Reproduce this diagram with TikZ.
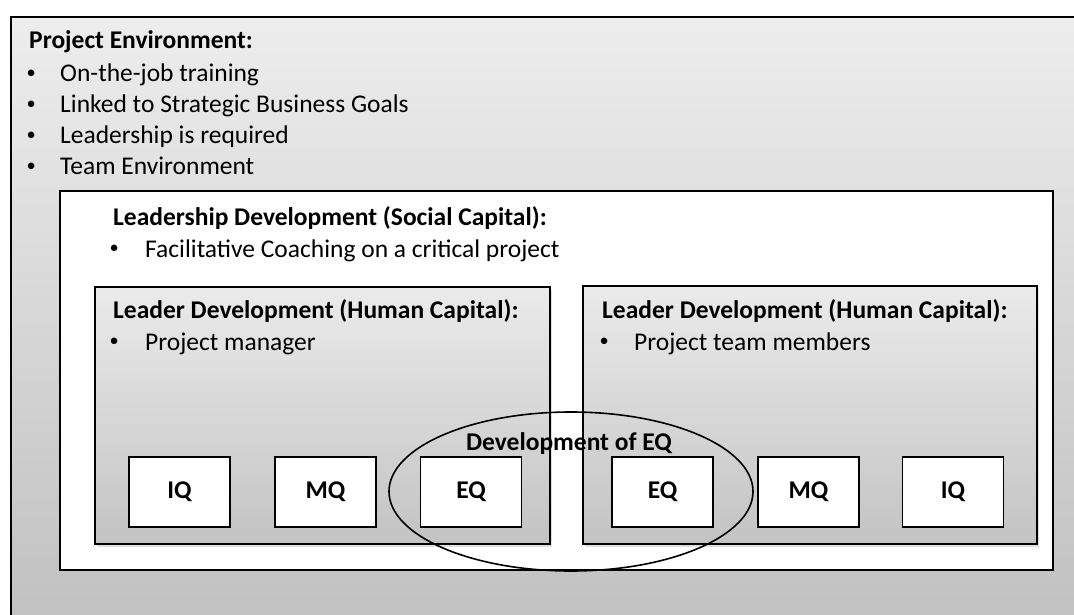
\documentclass[tikz,border=0pt]{standalone}
\usepackage{fontspec}
\setmainfont{Carlito}
\usetikzlibrary{shapes.geometric, shadows, positioning}

\newcommand{\bodyfont}{\fontsize{25.5}{31.5}\selectfont}
\newcommand{\bul}[1]{\makebox[#1][l]{\raisebox{3.5pt}{\scalebox{0.72}{\textbullet}}}}

\begin{document}
\begin{tikzpicture}[x=1pt, y=-1pt,
  panel/.style={draw=black, line width=1.4pt, top color=gray!16, bottom color=gray!47},
  qbox/.style={draw=black, line width=1.3pt, fill=white, minimum width=101pt, minimum height=70pt, inner sep=0pt, font=\bodyfont\bfseries},
  heading/.style={anchor=base west, inner sep=0pt, font=\bodyfont\bfseries},
  item/.style={anchor=base west, inner sep=0pt, font=\bodyfont}]

% Picture frame, the outer box runs off the right and bottom edges
\useasboundingbox (0,0) rectangle (1074,615);
\clip (0,0) rectangle (1074,615);

% Project environment (outer box), only its top and left sides show
\shade[top color=gray!14, bottom color=gray!50] (11,17) rectangle (1090,640);
\draw[line width=1.5pt] (1090,17) -- (11,17) -- (11,640);
\node[heading] (env-title) at (29,49) {Project Environment:};
\node[item] (env-a) at (26.5,82) {\bul{33.5pt}On-the-job training};
\node[item] (env-b) at (26.5,113) {\bul{33.5pt}Linked to Strategic Business Goals};
\node[item] (env-c) at (26.5,144) {\bul{33.5pt}Leadership is required};
\node[item] (env-d) at (26.5,175) {\bul{33.5pt}Team Environment};

% Leadership development (white box)
\draw[line width=1.5pt, fill=white] (60,191) rectangle (1053,570);
\node[heading] (soc-title) at (113,225) {Leadership Development (Social Capital):};
\node[item] (soc-a) at (109.5,257) {\bul{35.5pt}Facilitative Coaching on a critical project};

% Leader development, left and right
\shade[panel, drop shadow={shadow xshift=2pt, shadow yshift=-3pt, opacity=0.25}] (95,287) rectangle (550,544);
\shade[panel, drop shadow={shadow xshift=2pt, shadow yshift=-3pt, opacity=0.25}] (583,286) rectangle (1037,544);

\node[heading] (hum-l-title) at (113,318) {Leader Development (Human Capital):};
\node[item] (hum-l-a) at (109.5,350) {\bul{35.5pt}Project manager};
\node[heading] (hum-r-title) at (602,318) {Leader Development (Human Capital):};
\node[item] (hum-r-a) at (599.5,350) {\bul{34.5pt}Project team members};

% The three quotients in each box
\node[qbox] (iq-l) at (179.5,492) {IQ};
\node[qbox] (mq-l) at (325.5,492) {MQ};
\node[qbox] (eq-l) at (471,492) {EQ};
\node[qbox] (eq-r) at (662.5,492) {EQ};
\node[qbox] (mq-r) at (808.5,492) {MQ};
\node[qbox] (iq-r) at (953,492) {IQ};

% Ring round both EQ boxes
\node[ellipse, draw=black, line width=1.6pt, minimum width=364pt, minimum height=159pt] (eq-ring) at (571,491.5) {};
\node[heading, anchor=base] (eq-label) at (569,450) {Development of EQ};

\end{tikzpicture}
\end{document}
